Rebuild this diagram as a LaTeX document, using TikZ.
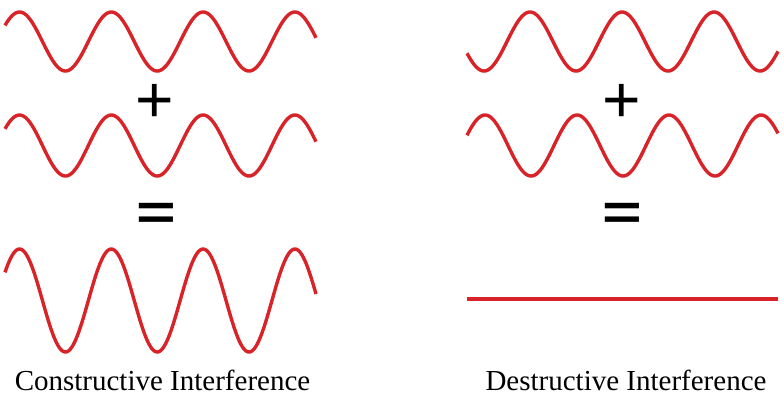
\documentclass[tikz,border=0pt]{standalone}
\usepackage{fontspec}
\usepackage{xcolor}
\usepackage{tikz}
\usetikzlibrary{positioning,calc}
\setmainfont{Liberation Serif}
\newfontfamily\symfont{Liberation Sans}
\definecolor{wavered}{RGB}{216,36,40}

\begin{document}
\begin{tikzpicture}[x=1pt,y=-1pt,
  wave/.style={wavered,line width=3.4pt,smooth,samples=220,
    preaction={draw=black!13,transform canvas={shift={(0.6pt,-1.6pt)}}}},
  sym/.style={font=\symfont\fontsize{66}{66}\selectfont,inner sep=0pt},
  eqsign/.style={font=\symfont\bfseries\fontsize{68}{68}\selectfont,inner sep=0pt,yscale=0.74,transform shape},
  caption/.style={font=\fontsize{29}{33}\selectfont,anchor=base,inner sep=0pt}]
  \useasboundingbox (0,0) rectangle (784,402);

  % Constructive side
  \draw[wave] plot[domain=5:316] (\x,{41.5-29.5*cos(3.9216*(\x-19.5))});
  \draw[wave] plot[domain=5:316] (\x,{145.5-30.5*cos(3.9216*(\x-19.5))});
  \draw[wave] plot[domain=5:316] (\x,{300.5-51.5*cos(3.9216*(\x-19.5))});
  \node[sym] (plusL) at (155,103) {+};
  \node[eqsign] (eqL) at (156,216) {=};
  \node[caption] (consL) at (162.5,390) {Constructive Interference};

  % Destructive side
  \draw[wave] plot[domain=467:778] (\x,{41.5+29.5*cos(3.913*(\x-484))});
  \draw[wave] plot[domain=467:778] (\x,{145.5-30.5*cos(3.913*(\x-485))});
  \draw[wave] (467,299) -- (778,299);
  \node[sym] (plusR) at (622,103) {+};
  \node[eqsign] (eqR) at (622.5,216) {=};
  \node[caption] (desR) at (626,390) {Destructive Interference};
\end{tikzpicture}
\end{document}
